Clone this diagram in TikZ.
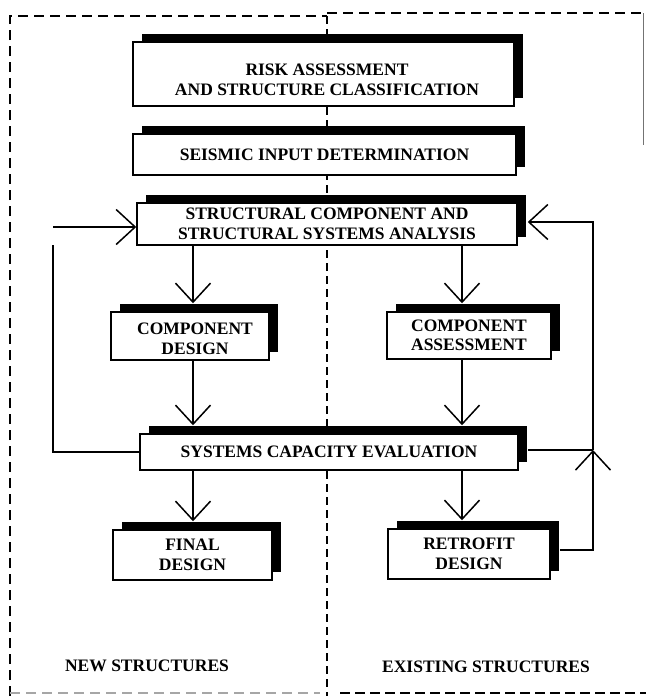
\documentclass[tikz,border=0pt]{standalone}
\usepackage{fontspec}
\setmainfont{Liberation Serif}
\usetikzlibrary{arrows.meta,shadows}
\tikzset{
  blk/.style={draw=black, line width=1.5pt, fill=white, align=center, inner sep=0pt,
    font=\fontsize{17.5}{19.5}\selectfont\bfseries,
    general shadow={fill=black, shadow xshift=9pt, shadow yshift=8pt}},
  conn/.style={line width=1.5pt},
  arr/.style={line width=1.5pt, -{Straight Barb[length=19pt,width=35pt]}},
  brd/.style={line width=1.5pt, dash pattern=on 10pt off 6pt},
  divl/.style={line width=1.4pt, dash pattern=on 8pt off 5pt},
  lbl/.style={font=\fontsize{17.5}{19.5}\selectfont\bfseries, inner sep=0pt, align=center}
}
\begin{document}
\begin{tikzpicture}[x=1pt,y=-1pt]
\useasboundingbox (0,0) rectangle (646,696);
% frame and divider
\draw[brd] (10,696) -- (10,16) -- (327,16);
\draw[brd] (327,13) -- (643,13);
\draw[line width=0.8pt, black!55] (643,13) -- (643,145);
\draw[brd, black!35] (10,693) -- (320,693);
\draw[line width=2.5pt, dash pattern=on 10pt off 5pt] (340,693) -- (646,693);
\draw[divl] (327,16) -- (327,696);
% columns
\coordinate (lx) at (193,0);
\coordinate (rx) at (462,0);
\coordinate (ll) at (53,0);
\coordinate (rl) at (593,0);
% boxes
\node[blk, minimum width=381pt, minimum height=64pt] (risk) at (323.5,74) {};
\node[lbl] (risktxt) at (327,80) {RISK ASSESSMENT\\AND STRUCTURE CLASSIFICATION};
\node[blk, minimum width=383pt, minimum height=41pt] (seis) at (324.5,154.5) {SEISMIC INPUT DETERMINATION};
\node[blk, minimum width=380pt, minimum height=42pt] (ana) at (327,224) {STRUCTURAL COMPONENT AND\\STRUCTURAL SYSTEMS ANALYSIS};
\node[blk, minimum width=158pt, minimum height=48pt] (cd) at (190,336) {};
\node[lbl] (cdtxt) at (195,339) {COMPONENT\\DESIGN};
\node[blk, minimum width=164pt, minimum height=47pt] (ca) at (469,335.5) {COMPONENT\\ASSESSMENT};
\node[blk, minimum width=378pt, minimum height=36pt] (ev) at (329,452) {SYSTEMS CAPACITY EVALUATION};
\node[blk, minimum width=159pt, minimum height=50pt] (fd) at (192.5,555) {FINAL\\DESIGN};
\node[blk, minimum width=162pt, minimum height=50pt] (rd) at (469,554) {RETROFIT\\DESIGN};
% labels
\node[lbl] (newl) at (147,666) {NEW STRUCTURES};
\node[lbl] (exl) at (486,667) {EXISTING STRUCTURES};
% vertical flow
\draw[arr] (ana.south -| lx) -- ([yshift=8pt]cd.north -| lx);
\draw[arr] (ana.south -| rx) -- ([yshift=8pt]ca.north -| rx);
\draw[arr] (cd.south -| lx) -- ([yshift=8pt]ev.north -| lx);
\draw[arr] (ca.south -| rx) -- ([yshift=8pt]ev.north -| rx);
\draw[arr] (ev.south -| lx) -- ([yshift=8pt]fd.north -| lx);
\draw[arr] (ev.south -| rx) -- ([yshift=8pt]rd.north -| rx);
% left loop
\coordinate (lbot) at (ev.west -| ll);
\coordinate (lgap) at (53,245);
\coordinate (lin) at (53,227);
\draw[conn] (ev.west) -- (lbot) -- (lgap);
\draw[arr] (lin) -- (lin -| ana.west);
% right loop
\coordinate (rmid) at (593,450);
\coordinate (rtop) at (593,222);
\draw[conn] ([xshift=9pt]rmid -| ev.east) -- (rmid);
\draw[arr] ([xshift=9pt,yshift=4pt]rd.east) -- ([yshift=4pt]rd.east -| rl) -- (rmid);
\draw[arr] (rmid) -- (rtop) -- ([xshift=10pt]rtop -| ana.east);
\end{tikzpicture}
\end{document}
